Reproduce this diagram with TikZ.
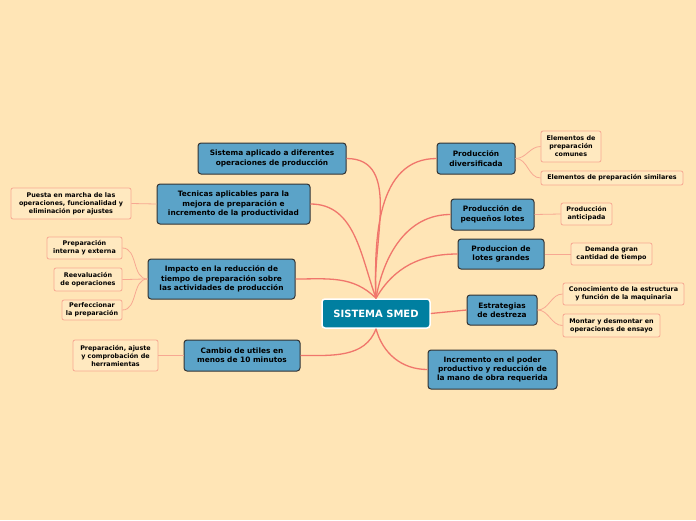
\documentclass[tikz,border=0pt]{standalone}
\usepackage{fontspec}
\setmainfont{DejaVu Sans}
\usepackage{xcolor}
\usetikzlibrary{positioning}
\definecolor{cbg}    {RGB}{255,229,182}
\definecolor{cblue}  {RGB}{91,163,200}
\definecolor{ccore}  {RGB}{0,127,160}
\definecolor{cline}  {RGB}{240,118,108}
\definecolor{csub}   {RGB}{247,168,146}
\definecolor{csubbg} {RGB}{255,233,192}
\tikzset{
  core/.style={rectangle, rounded corners=3pt, draw=white, line width=1.5pt,
               fill=ccore, text=white, font=\fontsize{10}{12}\selectfont\bfseries,
               minimum width=108pt, minimum height=29pt},
  topic/.style={rectangle, rounded corners=3pt, draw=black!80, line width=1pt,
                fill=cblue, font=\fontsize{7.4}{9.4}\selectfont\bfseries, align=center,
                inner sep=2pt},
  leaf/.style={rectangle, rounded corners=2pt, draw=csub, line width=0.8pt,
               fill=csubbg, font=\fontsize{6.4}{8}\selectfont\bfseries, align=center,
               inner sep=2pt},
  mainln/.style={draw=cline, line width=1.3pt},
  subln/.style={draw=csub, line width=0.8pt},
}
\begin{document}
\begin{tikzpicture}[x=1pt, y=-1pt]
  % background / page size
  \fill[cbg] (0,0) rectangle (696,520);
  \useasboundingbox (0,0) rectangle (696,520);

  % -- centre -----------------------------------------------------------------
  \node[core] at (376,313.5) (smed) {SISTEMA SMED};

  % -- left topics ------------------------------------------------------------
  \node[topic, minimum width=148pt, minimum height=31pt] at (272,158.5) (aplic)
      {Sistema aplicado a diferentes\\operaciones de producción};
  \node[topic, minimum width=153pt, minimum height=40pt] at (233.5,204) (tecn)
      {Tecnicas aplicables para la\\mejora de preparación e\\incremento de la productividad};
  \node[topic, minimum width=147pt, minimum height=40pt] at (221.5,279) (impac)
      {Impacto en la reducción de\\tiempo de preparación sobre\\las actividades de producción};
  \node[topic, minimum width=116pt, minimum height=31pt] at (242,355.5) (cambio)
      {Cambio de utiles en\\menos de 10 minutos};

  % -- right topics -----------------------------------------------------------
  \node[topic, minimum width=78pt, minimum height=31pt] at (476,158.5) (divers)
      {Producción\\diversificada};
  \node[topic, minimum width=83pt, minimum height=31pt] at (492.5,214.5) (peque)
      {Producción de\\pequeños lotes};
  \node[topic, minimum width=86pt, minimum height=30pt] at (501,254) (grand)
      {Produccion de\\lotes grandes};
  \node[topic, minimum width=70pt, minimum height=30pt] at (502,310) (destr)
      {Estrategias\\de destreza};
  \node[topic, minimum width=129pt, minimum height=39pt] at (492.5,369.5) (incre)
      {Incremento en el poder\\productivo y reducción de\\la mano de obra requerida};

  % -- left leaves ------------------------------------------------------------
  \node[leaf, minimum width=120pt, minimum height=31pt] at (71,203.5) (puesta)
      {Puesta en marcha de las\\operaciones, funcionalidad y\\eliminación por ajustes};
  \node[leaf, minimum width=75pt, minimum height=22pt] at (84.5,248) (prepint)
      {Preparación\\interna y externa};
  \node[leaf, minimum width=68pt, minimum height=23pt] at (88,279.5) (reeval)
      {Reevaluación\\de operaciones};
  \node[leaf, minimum width=60pt, minimum height=20pt] at (92,310) (perfec)
      {Perfeccionar\\la preparación};
  \node[leaf, minimum width=85pt, minimum height=31pt] at (115.5,355.5) (herram)
      {Preparación, ajuste\\y comprobación de\\herramientas};

  % -- right leaves -----------------------------------------------------------
  \node[leaf, minimum width=60pt, minimum height=31pt] at (571,146.5) (comun)
      {Elementos de\\preparación\\comunes};
  \node[leaf, minimum width=142pt, minimum height=14pt] at (612,178) (simil)
      {Elementos de preparación similares};
  \node[leaf, minimum width=51pt, minimum height=22pt] at (586.5,214) (antic)
      {Producción\\anticipada};
  \node[leaf, minimum width=81pt, minimum height=22pt] at (611.5,254) (deman)
      {Demanda gran\\cantidad de tiempo};
  \node[leaf, minimum width=121pt, minimum height=22pt] at (623.5,294) (conoc)
      {Conocimiento de la estructura\\y función de la maquinaria};
  \node[leaf, minimum width=97pt, minimum height=23pt] at (611.5,325.5) (monta)
      {Montar y desmontar en\\operaciones de ensayo};

  % -- main branches ----------------------------------------------------------
  \draw[mainln] (smed.north) to[out=95, in=0] (aplic.east);
  \draw[mainln] (smed.north) to[out=110, in=0] (tecn.east);
  \draw[mainln] (smed.north) to[out=135, in=0] (impac.east);
  \draw[mainln] (smed.south) to[out=-110, in=0] (cambio.east);
  \draw[mainln] (smed.north) to[out=92, in=180] (divers.west);
  \draw[mainln] (smed.north) to[out=80, in=180] (peque.west);
  \draw[mainln] (smed.north) to[out=60, in=180] (grand.west);
  \draw[mainln] (smed.east) -- (destr.west);
  \draw[mainln] (smed.south) to[out=-75, in=180] (incre.west);

  % -- leaf branches ----------------------------------------------------------
  \draw[subln] (tecn.west) -- (puesta.east);
  \draw[subln] (impac.west) to[out=180, in=0] (prepint.east);
  \draw[subln] (impac.west) to[out=180, in=0] (reeval.east);
  \draw[subln] (impac.west) to[out=180, in=0] (perfec.east);
  \draw[subln] (cambio.west) -- (herram.east);
  \draw[subln] (divers.east) to[out=0, in=180] (comun.west);
  \draw[subln] (divers.east) to[out=0, in=180] (simil.west);
  \draw[subln] (peque.east) -- (antic.west);
  \draw[subln] (grand.east) -- (deman.west);
  \draw[subln] (destr.east) to[out=0, in=180] (conoc.west);
  \draw[subln] (destr.east) to[out=0, in=180] (monta.west);
\end{tikzpicture}
\end{document}
